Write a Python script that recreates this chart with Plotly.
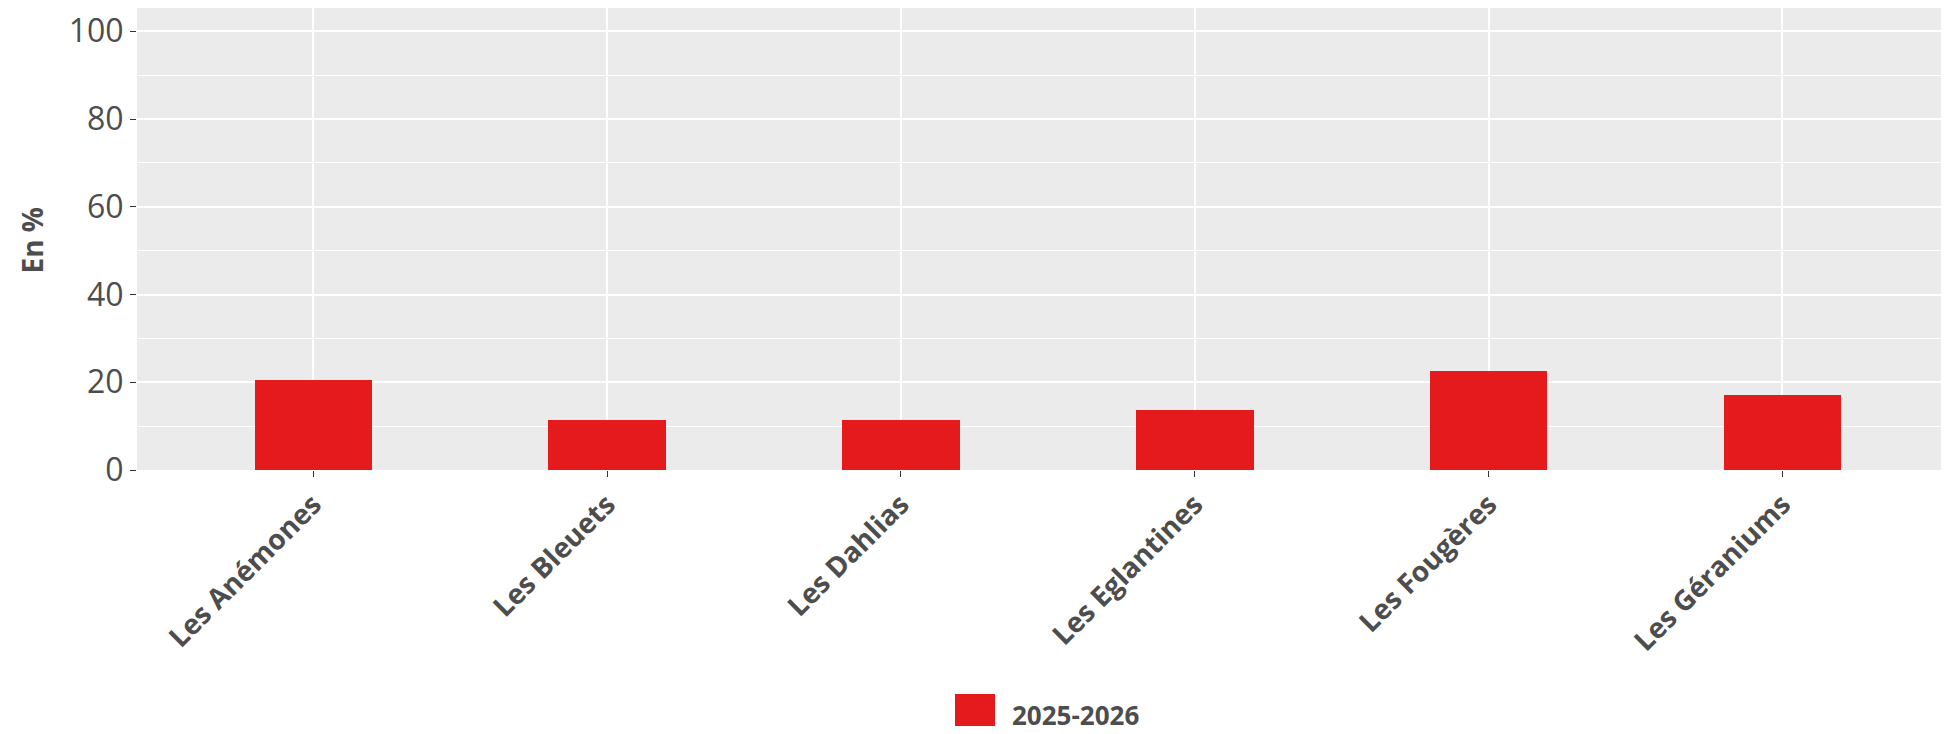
import plotly.graph_objects as go

categories = ["Les Anémones", "Les Bleuets", "Les Dahlias", "Les Eglantines", "Les Fougères", "Les Géraniums"]
values = [20.5, 11.4, 11.4, 13.6, 22.5, 17.1]
series_name = "2025-2026"
y_ticks = [0, 20, 40, 60, 80, 100]
y_minor = [10, 30, 50, 70, 90]
y_title = "En %"

RED = "#E41A1C"
GREY_TXT = "#4D4D4D"
FONT = "Open Sans"

# figure size chosen so the page (with the default 8px body margin) fills the window
W, H = 1941, 718
L, R, T, B = 129, 0, 0, 256
pw, ph = W - L - R, H - T - B

def px_x(x):
    return (x - L) / pw

def px_y(y):
    return (H - B - y) / ph

fig = go.Figure()
fig.add_trace(go.Bar(
    x=list(range(len(categories))), y=values, name=series_name,
    marker=dict(color=RED, line=dict(width=0)), width=0.4, showlegend=False,
))

fig.update_layout(
    width=W, height=H,
    margin=dict(l=L, r=R, t=T, b=B, pad=0),
    paper_bgcolor="white", plot_bgcolor="#EBEBEB",
    font=dict(family=FONT, color=GREY_TXT),
    bargap=0,
)
fig.update_xaxes(
    range=[-0.6, 5.567], tickmode="array",
    tickvals=list(range(len(categories))), ticktext=[f"<b>{c}</b>" for c in categories],
    tickangle=-45, tickfont=dict(size=28, color=GREY_TXT, family=FONT),
    showgrid=True, gridcolor="white", gridwidth=1.5,
    ticks="outside", ticklen=6, tickcolor="#333333", tickwidth=1.3,
    zeroline=False, showline=False,
)
fig.update_yaxes(
    range=[0, 105.3], tickmode="array", tickvals=y_ticks,
    tickfont=dict(size=32, color=GREY_TXT, family=FONT),
    showgrid=True, gridcolor="white", gridwidth=1.5,
    minor=dict(tickmode="array", tickvals=y_minor, showgrid=True,
               gridcolor="white", gridwidth=1.2, ticks=""),
    ticks="outside", ticklen=6, tickcolor="#333333", tickwidth=1.3,
    zeroline=False, showline=False,
)

# y axis title
fig.add_annotation(xref="paper", yref="paper", x=px_x(23.5), y=px_y(232),
                   xanchor="center", yanchor="middle", showarrow=False, textangle=-90,
                   text=f"<b>{y_title}</b>", font=dict(size=28, color=GREY_TXT, family=FONT))

# Legend drawn manually (large key square)
fig.add_shape(type="rect", xref="paper", yref="paper",
              x0=px_x(947), x1=px_x(987), y0=px_y(730), y1=px_y(686),
              fillcolor=RED, line=dict(width=0), layer="above")
fig.add_annotation(xref="paper", yref="paper", x=px_x(1002), y=px_y(707),
                   xanchor="left", yanchor="middle", showarrow=False,
                   text=f"<b>{series_name}</b>", font=dict(size=26, color=GREY_TXT, family=FONT))

fig.write_html("out.html")
